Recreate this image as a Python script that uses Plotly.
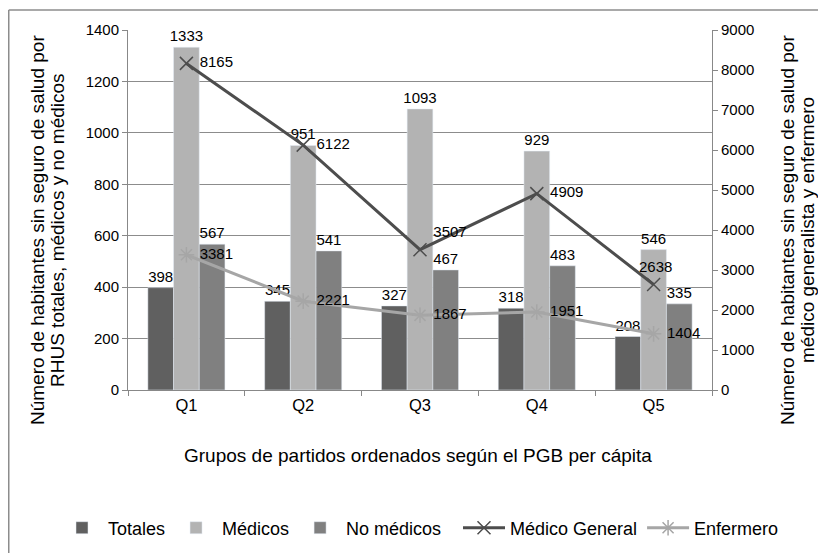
import plotly.graph_objects as go

categories = ["Q1", "Q2", "Q3", "Q4", "Q5"]
totales = [398, 345, 327, 318, 208]
medicos = [1333, 951, 1093, 929, 546]
no_medicos = [567, 541, 467, 483, 335]
medico_general = [8165, 6122, 3507, 4909, 2638]
enfermero = [3381, 2221, 1867, 1951, 1404]

left_ticks = [0, 200, 400, 600, 800, 1000, 1200, 1400]
right_ticks = [0, 1000, 2000, 3000, 4000, 5000, 6000, 7000, 8000, 9000]

FONT = "Liberation Sans, Arial, sans-serif"
lab = dict(family=FONT, size=15, color="black")

fig = go.Figure()
for name, vals, col in [("Totales", totales, "#606060"),
                        ("Médicos", medicos, "#b3b3b3"),
                        ("No médicos", no_medicos, "#808080")]:
    fig.add_trace(go.Bar(name=name, x=categories, y=vals, marker_color=col,
                         text=vals, textposition="outside", textfont=lab,
                         constraintext="none", cliponaxis=False, legend="legend"))
fig.add_trace(go.Scatter(name="Médico General", x=categories, y=medico_general, yaxis="y2",
                         mode="lines+markers+text", line=dict(color="#4d4d4d", width=3),
                         marker=dict(symbol="x-thin", size=13, line=dict(color="#4d4d4d", width=1.5)),
                         text=[f" {v}" for v in medico_general],
                         textposition=["middle right", "middle right", "top right", "middle right", "top center"],
                         textfont=lab, cliponaxis=False, legend="legend2"))
fig.add_trace(go.Scatter(name="Enfermero", x=categories, y=enfermero, yaxis="y2",
                         mode="lines+markers+text", line=dict(color="#a6a6a6", width=3),
                         marker=dict(symbol="asterisk", size=13, line=dict(color="#a6a6a6", width=1.5)),
                         text=[f" {v}" for v in enfermero],
                         textposition="middle right",
                         textfont=lab, cliponaxis=False, legend="legend2"))

# page body has an 8px margin: figure is drawn offset by (8, 8) on screen
OFF = 8
W, H = 826 - OFF, 553 - OFF
L, R, T, B = 120, 114, 22, 163
pw, ph = W - L - R, H - T - B

def px(xs):
    return (xs - OFF - L) / pw

def py(ys):
    return (H - B - (ys - OFF)) / ph

leg_common = dict(orientation="h", yanchor="middle", xanchor="left",
                  font=dict(family=FONT, size=18), bgcolor="rgba(0,0,0,0)",
                  itemwidth=42, tracegroupgap=0)

fig.update_layout(
    width=W, height=H,
    margin=dict(l=L, r=R, t=T, b=B, autoexpand=False),
    paper_bgcolor="white", plot_bgcolor="white",
    font=dict(family=FONT, size=15, color="black"),
    barmode="group", bargap=0.34, bargroupgap=0,
    xaxis=dict(type="category", showline=True, linecolor="#888888", linewidth=1,
               ticks="outside", tickson="boundaries", ticklen=5, tickcolor="#888888",
               tickfont=dict(family=FONT, size=16.5)),
    yaxis=dict(range=[0, 1400], tickvals=left_ticks, showgrid=True, gridcolor="#8c8c8c",
               showline=True, linecolor="#888888", ticks="outside", ticklen=5,
               tickcolor="#888888", zeroline=False, tickfont=dict(family=FONT, size=15)),
    yaxis2=dict(range=[0, 9000], tickvals=right_ticks, overlaying="y", side="right",
                showgrid=False, showline=True, linecolor="#888888", ticks="outside",
                ticklen=5, tickcolor="#888888", zeroline=False,
                tickfont=dict(family=FONT, size=15)),
    legend=dict(x=px(56), y=py(528), **leg_common),
    legend2=dict(x=px(458), y=py(528), **leg_common),
    showlegend=True,
)

title_font = dict(family=FONT, size=19)
for text, xc in [("Número de habitantes sin seguro de salud por", 37),
                 ("RHUS totales, médicos y no médicos", 57),
                 ("Número de habitantes sin seguro de salud por", 787),
                 ("médico generalista y enfermero", 807)]:
    fig.add_annotation(text=text, xref="paper", yref="paper", x=px(xc), y=py(230),
                       textangle=-90, showarrow=False, font=title_font,
                       xanchor="center", yanchor="middle")
fig.add_annotation(text="Grupos de partidos ordenados según el PGB per cápita",
                   xref="paper", yref="paper", x=px(418), y=py(455),
                   showarrow=False, font=title_font, xanchor="center", yanchor="middle")

# outer chart frame (top and left edges visible)
fig.add_shape(type="line", xref="paper", yref="paper", x0=px(8.75), x1=px(840), y0=py(10), y1=py(10),
              line=dict(color="#8c8c8c", width=1.5))
fig.add_shape(type="line", xref="paper", yref="paper", x0=px(8.75), x1=px(8.75), y0=py(10), y1=py(570),
              line=dict(color="#8c8c8c", width=1.5))

fig.write_html("out.html")
